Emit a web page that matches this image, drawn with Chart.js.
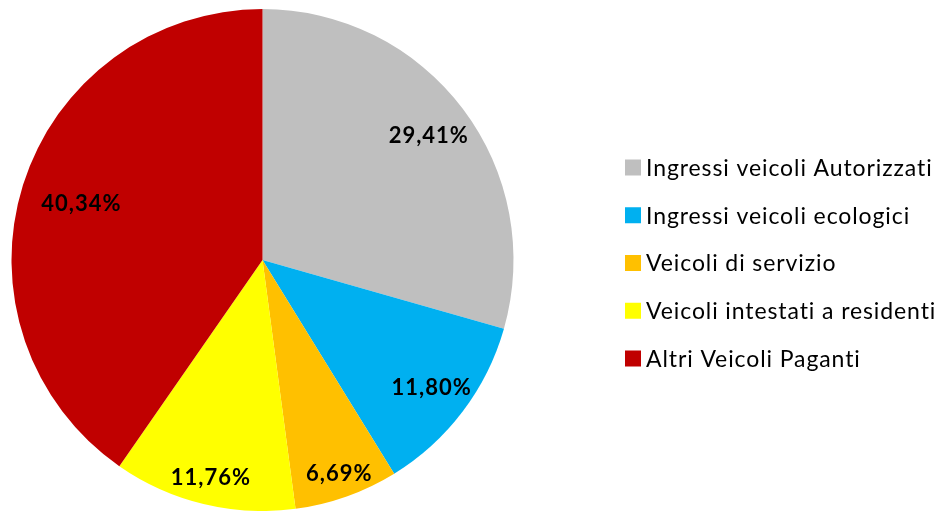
<!DOCTYPE html>
<html>
<head>
<meta charset="utf-8">
<script src="https://cdn.jsdelivr.net/npm/chart.js@4.4.1/dist/chart.umd.min.js"></script>
<style>
  html, body { margin: 0; padding: 0; background: #ffffff; }
  #wrap { width: 943px; height: 511px; position: relative; }
</style>
</head>
<body>
<div id="wrap"><canvas id="c"></canvas></div>
<script>
const categories = [
  "Ingressi veicoli Autorizzati",
  "Ingressi veicoli ecologici",
  "Veicoli di servizio",
  "Veicoli intestati a residenti",
  "Altri Veicoli Paganti"
];
const shares = [29.41, 11.80, 6.69, 11.76, 40.34];
const sliceColors = ["#BFBFBF", "#00B0F0", "#FFC000", "#FFFF00", "#C00000"];
// radial placement of each percentage label (fraction of radius), like Excel best-fit
const labelRadius = [0.825, 0.84, 0.90, 0.89, 0.76];

const labelPlugin = {
  id: 'sliceLabels',
  afterDatasetsDraw(chart) {
    const ctx = chart.ctx;
    const meta = chart.getDatasetMeta(0);
    ctx.save();
    ctx.font = 'bold 22px Lato';
    try { ctx.letterSpacing = '1px'; } catch (e) {}
    ctx.fillStyle = '#000000';
    ctx.textAlign = 'center';
    ctx.textBaseline = 'middle';
    meta.data.forEach((arc, i) => {
      const mid = (arc.startAngle + arc.endAngle) / 2;
      const r = arc.outerRadius * labelRadius[i];
      const x = arc.x + Math.cos(mid) * r;
      const y = arc.y + Math.sin(mid) * r;
      const txt = shares[i].toFixed(2).replace('.', ',') + '%';
      ctx.fillText(txt, x + 1, y + 1);
    });
    ctx.restore();
  }
};

const legendPlugin = {
  id: 'customLegend',
  afterDraw(chart) {
    const ctx = chart.ctx;
    const ds = chart.data.datasets[0];
    ctx.save();
    ctx.font = '23px Lato';
    try { ctx.letterSpacing = '0.9px'; } catch (e) {}
    ctx.textAlign = 'left';
    ctx.textBaseline = 'middle';
    const x0 = 625, y0 = 167.5, step = 47.75, box = 16;
    chart.data.labels.forEach((lab, i) => {
      const cy = y0 + i * step;
      ctx.fillStyle = ds.backgroundColor[i];
      ctx.fillRect(x0, cy - box / 2, box, box);
      ctx.fillStyle = '#000000';
      ctx.fillText(lab, x0 + 21, cy + 1);
    });
    ctx.restore();
  }
};

new Chart(document.getElementById('c'), {
  type: 'pie',
  data: {
    labels: categories,
    datasets: [{
      data: shares,
      backgroundColor: sliceColors,
      borderWidth: 0
    }]
  },
  options: {
    responsive: true,
    maintainAspectRatio: false,
    animation: false,
    layout: { padding: { left: 11, right: 429, top: 9, bottom: 0 } },
    plugins: {
      legend: { display: false },
      tooltip: { enabled: false }
    }
  },
  plugins: [labelPlugin, legendPlugin]
});
</script>
</body>
</html>
